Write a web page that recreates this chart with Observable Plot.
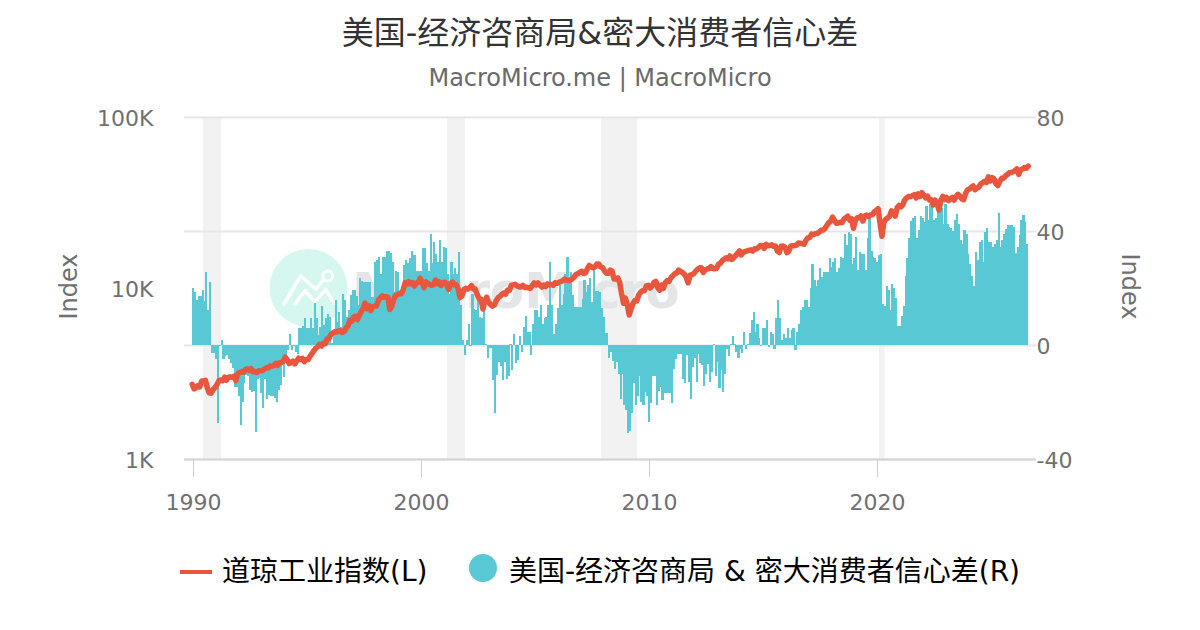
<!DOCTYPE html>
<html>
<head>
<meta charset="utf-8">
<script src="https://cdn.jsdelivr.net/npm/d3@7"></script>
<script src="https://cdn.jsdelivr.net/npm/@observablehq/plot@0.6"></script>
<style>
html,body{margin:0;padding:0;background:#fff;}
body{width:1200px;height:630px;overflow:hidden;font-family:"DejaVu Sans","Noto Sans CJK SC",sans-serif;}
#head{position:relative;height:100px;width:1200px;}
#title{position:absolute;left:0;right:0;top:12px;text-align:center;font-size:32px;line-height:42px;color:#333;}
#sub{position:absolute;left:0;right:0;top:62px;text-align:center;font-size:24px;line-height:32px;color:#6a6a6a;}
#chart svg{display:block;}
#legend{position:relative;height:110px;width:1200px;color:#000;font-size:28px;}
#legend .t{position:absolute;top:30px;line-height:44px;white-space:nowrap;}
#legend .l{position:absolute;left:180px;top:50px;width:32px;height:4px;background:#e8563d;}
#legend .c{position:absolute;left:469px;top:34px;width:28px;height:28px;border-radius:50%;background:#58c8d5;}
</style>
</head>
<body>
<div id="head">
  <div id="title">美国-经济咨商局&amp;密大消费者信心差</div>
  <div id="sub">MacroMicro.me | MacroMicro</div>
</div>
<div id="chart"></div>
<div id="legend">
  <div class="l"></div><div class="t" style="left:222px">道琼工业指数(L)</div>
  <div class="c"></div><div class="t" style="left:509px">美国-经济咨商局 &amp; 密大消费者信心差(R)</div>
</div>
<script>
const startYear = 1990;
// Monthly spread, Jan 1990 onward (right axis)
const spread = [
19.9,18.7,15.8,17.2,17.2,19.3,15.6,25.5,12.3,22,-2.9,-2.9,
-5,-27.5,-0.3,1.8,-5,-4,-3.5,-5,-6.4,-8,-14.6,-14.6,
-18,-28,-20,-13.5,-10.5,-11,-15.8,-16.4,-16,-30.4,-12,-11.7,
-17,-22,-12,-19,-17.5,-18,-18,-18.7,-20,-15.8,-14,-7,
-11.3,-4,-1.8,3.7,-1.8,-0.4,-2.3,-3.2,5.8,5.8,6.7,9.4,
5.8,5.8,9.4,5.8,14.9,9.4,3.5,6.4,13.7,7,9.4,10.9,
9.7,0.6,5.3,15.8,8,11.7,6.4,17.9,15.8,10,12.3,17.5,
19.3,19.3,17.2,14,23.4,22.6,22.2,22.2,22,22,17,17,
29,29.8,31,25,31,31,33,33,32.4,29,18.7,26,
25.7,19,19,28,30,28.6,30.4,33,31.6,31.6,26,26,
26,34,34,28.7,26,39,28.7,36,32,29,37,29,
34.5,34,25,18,29,25,27,25,32.5,14,1.8,-3.5,
1.8,7.3,-0.5,17.9,12.5,12.3,16,10,9.4,12.3,0.3,-4.4,
-1.2,-1.2,-12.3,-24,-10.5,-5.8,-7.4,-12.3,-5.8,-12,-11,0.3,
-8.8,3.9,-6.4,-5.3,3.2,-2.3,6.4,10.2,4.7,4.7,-3.5,7.2,
12.3,12.3,10,14,7.2,9.4,10,14,29,14,3.9,7.4,
12.9,21,14,18,25,31,24,25.7,17.5,13.5,13.5,13.5,
13.5,16,22.8,18.7,21,23.4,15,27,19,19,18.7,12.9,
10,4.3,4.3,-4.4,-2.3,-5.6,-8.5,-5.8,-10,-19,-10,-21,
-22.8,-31,-30,-24,-13.5,-21,-18,-10.9,-20,-21,-16.4,-18,
-27,-20.5,-10.9,-11,-21,-16,-14.7,-19.3,-17,-17,-17,-17,
-20.5,-8.5,-5,-3,-3,-3,-12,-13.5,-3.5,-12.9,-19,-7.8,
-4.7,-12.9,-3,-6.4,-7,-14.3,-10,-6.7,-12.9,-9.4,0.5,-10.9,
-5.8,-15,-8.8,-16.4,-10,-1.5,-3.9,0.2,3.2,0.2,-2.3,-4.4,
-1.5,-2.9,4.7,-1.5,0.2,4.3,8.8,11.6,4.7,7.4,2.3,-0.3,
5.8,5.8,8.8,-0.8,4.4,3.7,-1.5,9.4,15.8,9.4,1.8,3.9,
2.3,5.8,2.3,5.3,5.8,-1.8,4.4,7.4,12.3,13.2,15.8,15.8,
13.5,19.9,28.4,22.8,20.7,22.8,26.9,24,25.7,25.7,25.7,30.4,
27.5,29,30.4,25.7,26.9,31,30.4,39,35,39.5,39,28.4,
30.4,38,26.3,32.5,32,32,26.3,37.4,44.4,33,31,30.4,
29,31.6,32,14.4,13.7,20.7,19.3,12.3,21.4,19.9,16.4,6.7,
6.7,10.2,13.7,24.2,30.4,37.4,43.6,44.4,45.3,37.4,40.4,45.3,
44.4,43,48.8,43.9,49.5,49.5,43.9,44.4,48,48,48,42.3,
49.5,42.3,41.5,41.2,40.1,43.9,46,42.3,36.8,35.4,40.4,38.9,
31.9,28.4,24.2,20.7,32.6,29.8,36,36.8,29,39.8,41,36,
36,34.4,35.3,37,46.2,34.4,37,39,40.6,42,42,42,
41.4,32.4,34.4,38.6,44,45.5,43,35.5
];
// Dow Jones Industrial Average, monthly, starting Dec 1989 (left axis)
const dow = [2753,
2590,2627,2707,2657,2877,2881,2905,2614,2453,2442,2560,2634,
2736,2882,2914,2888,3028,2907,3025,3044,3017,3069,2895,3169,
3223,3268,3236,3359,3397,3319,3394,3257,3272,3226,3305,3301,
3310,3371,3435,3428,3527,3516,3540,3651,3555,3681,3684,3754,
3978,3832,3636,3682,3758,3625,3765,3913,3843,3908,3739,3834,
3844,4011,4158,4321,4465,4556,4709,4611,4789,4756,5075,5117,
5395,5486,5587,5569,5643,5655,5529,5616,5882,6029,6522,6448,
6813,6878,6584,7009,7331,7673,8223,7622,7945,7442,7823,7908,
7907,8546,8800,9063,8900,8952,8883,7539,7843,8592,9117,9181,
9359,9307,9786,10789,10560,10971,10655,10829,10337,10730,10878,11497,
10941,10128,10922,10734,10522,10448,10522,11215,10651,10971,10415,10787,
10887,10495,9879,10735,10912,10502,10523,9950,8848,9075,9852,10022,
9920,10106,10404,9946,9925,9243,8737,8664,7592,8397,8896,8342,
8054,7891,7992,8480,8850,8985,9234,9416,9275,9801,9782,10454,
10488,10584,10358,10226,10188,10435,10140,10174,10080,10027,10428,10783,
10490,10766,10504,10193,10467,10275,10641,10482,10569,10440,10806,10718,
10865,10993,11109,11367,11168,11150,11186,11381,11679,12081,12222,12463,
12622,12269,12354,13063,13628,13409,13212,13358,13896,13930,13372,13265,
12650,12266,12263,12820,12638,11350,11378,11544,10851,9325,8200,8776,
8001,7000,7609,8168,8500,8447,9172,9496,9712,9713,10345,10428,
10067,10325,10857,11009,10137,9774,10466,10015,10788,11118,11006,11578,
11892,12226,12320,12811,12570,12414,12143,11614,10800,11955,12046,12218,
12633,12952,13212,13214,12393,12880,13009,13091,13437,13096,13026,13104,
13861,14054,14579,14840,15116,14910,15500,14810,15130,15546,16086,16577,
15699,16322,16458,16581,16717,16827,16563,17098,17043,17391,17828,17823,
17165,18133,17776,17841,18011,17620,17690,16528,16285,17664,17720,17425,
16200,16517,17685,17774,17787,17930,18432,18401,18308,18142,19124,19763,
19864,20812,20663,20941,21009,21350,21891,21948,22405,23377,24272,24719,
26149,25029,24103,24163,24416,24271,25415,25965,26458,25116,25538,22500,
25000,25916,25929,26593,24815,26600,26864,26403,26917,27046,28051,28538,
29300,24000,20200,24346,25383,25813,26428,28430,27782,26502,29639,30606,
29983,30932,32982,33875,34529,34503,34935,35361,33844,35820,34484,36338,
35132,33893,34678,32977,32990,30775,32845,31510,28726,32733,34590,33147,
34086,32657,33274,34098,32908,34408,35560,34722,33508,33053,35951,37690,
38150,38996,39807,37816,38686,39119,40843,41563,42330,41763,44911,42544,
44545,43841,41000,40000,42270,44095,44131,45545,46398,47563,47716,48063,
49000,50000,46500,49500,50000,51000,50500,52000
];
const recessions = [[1990.44,1991.23],[2001.14,2001.93],[2007.9,2009.47],[2020.08,2020.33]];
const xTicks = [1990,2000,2010,2020];
const leftTicks = [1000,10000,100000];
const rightTicks = [-40,0,40,80];

// The spread's axis (-40..80) shares the log axis' full height (1K..100K)
const toLeft = v => Math.pow(10, 3 + (v + 40) / 120 * 2);
const toRight = y => (Math.log10(y) - 3) / 2 * 120 - 40;

const BAR_OFFSET = -0.044;
const barData = spread.map((v,i) => ({x1: startYear + i/12 + BAR_OFFSET, x2: startYear + (i+1)/12 + BAR_OFFSET + (i < spread.length-1 ? 0.012 : 0), y1: toLeft(0), y2: toLeft(v)}));
const lineData = dow.map((v,i) => ({x: startYear + (i-0.7)/12, y: v}));

function watermark(){
  const g = d3.create("svg:g");
  g.append("text").attr("x",352).attr("y",208).attr("font-family","DejaVu Sans").attr("font-weight","bold")
    .attr("text-anchor","start").attr("font-size",50).attr("fill","#e4e5e6").text("MacroMicro");
  g.append("circle").attr("cx",308.5).attr("cy",188).attr("r",39).attr("fill","#d5f7f0");
  const line = d3.line();
  [[[284,204],[300.7,176],[316,189.3],[323,180]],[[295,204],[305,190.7],[315,201.7],[325.7,189.3],[334,203.3]]].forEach(p=>{
    g.append("path").attr("d",line(p)).attr("fill","none").attr("stroke","#fff").attr("stroke-width",3.5).attr("stroke-linecap","round").attr("stroke-linejoin","round");
  });
  g.append("circle").attr("cx",327.7).attr("cy",176).attr("r",5).attr("fill","none").attr("stroke","#fff").attr("stroke-width",3);
  return g.node();
}

const fontFamily = '"DejaVu Sans","Noto Sans CJK SC",sans-serif';
const tickFill = "#707070";
const chart = Plot.plot({
  width: 1200, height: 420,
  marginTop: 17, marginBottom: 61, marginLeft: 184, marginRight: 164,
  style: {fontFamily, background:"#fff", color:"#666"},
  x: {domain:[1989.605,2026.97], label:null},
  y: {type:"log", domain:[1000,100000], label:null},
  marks: [
    Plot.rect(recessions,{x1:d=>d[0],x2:d=>d[1],y1:1000,y2:100000,fill:"#f2f2f2"}),
    watermark,
    Plot.ruleY(rightTicks,{y:toLeft,stroke:"#e6e6e6",strokeWidth:2}),
    Plot.rect(barData,{x1:"x1",x2:"x2",y1:"y1",y2:"y2",fill:"#58c8d5",shapeRendering:"crispEdges"}),
    Plot.line(lineData,{x:"x",y:"y",stroke:"#e8563d",strokeWidth:5.5,strokeLinejoin:"round"}),
    Plot.ruleY([1000],{stroke:"#d4d4d4",strokeWidth:2}),
    Plot.axisY({ticks:leftTicks,tickFormat:d=>d/1000+"K",tickSize:0,tickPadding:31,dy:1,fontSize:22,fill:tickFill,label:null,anchor:"left"}),
    Plot.axisY({ticks:rightTicks.map(toLeft),tickFormat:d=>String(Math.round(toRight(d))+0).replace("-0","0"),tickSize:0,tickPadding:0,dy:1,fontSize:22,fill:tickFill,label:null,anchor:"right"}),
    Plot.axisX({ticks:xTicks,tickFormat:"d",tickSize:18,tickPadding:17,fontSize:22,fill:tickFill,stroke:"#ccc",label:null}),
    Plot.text(["Index"],{frameAnchor:"left",dx:-115,dy:-2,rotate:-90,textAnchor:"middle",fontSize:24,fill:tickFill}),
    Plot.text(["Index"],{frameAnchor:"right",dx:93,dy:-2,rotate:90,textAnchor:"middle",fontSize:24,fill:tickFill})
  ]
});
document.getElementById("chart").appendChild(chart);
</script>
</body>
</html>
